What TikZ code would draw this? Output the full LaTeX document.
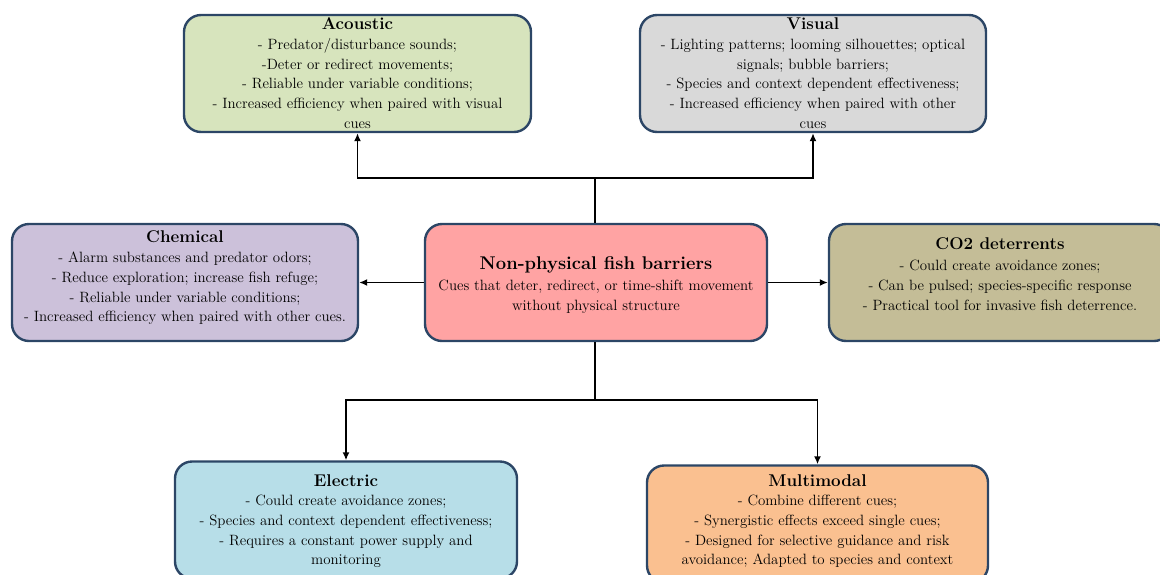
\documentclass[tikz,border=0pt]{standalone}
\usetikzlibrary{arrows.meta}
\definecolor{edgeblue}{HTML}{2C4666}
\definecolor{acfill}{HTML}{D7E4BD}
\definecolor{vifill}{HTML}{D9D9D9}
\definecolor{chfill}{HTML}{CCC1DA}
\definecolor{ctfill}{HTML}{FFA3A3}
\definecolor{cofill}{HTML}{C4BD97}
\definecolor{elfill}{HTML}{B7DEE8}
\definecolor{mmfill}{HTML}{FAC090}
\tikzset{
  cuebox/.style={draw=edgeblue, line width=2.4pt, rounded corners=17pt,
    minimum width=#1, minimum height=117pt, inner sep=0pt},
  headtxt/.style={anchor=north, inner sep=0pt, font=\fontsize{17}{20}\selectfont\bfseries},
  bodytxt/.style={anchor=north, inner sep=0pt, align=center,
    font=\fontsize{14.9}{19.7}\selectfont},
  link/.style={line width=1.5pt, draw=black},
  arr/.style={link, -{Latex[length=8pt,width=7pt]}}
}
\begin{document}
\begin{tikzpicture}[x=1pt,y=-1pt]
\useasboundingbox (0,0) rectangle (1160,574);
\clip (0,0) rectangle (1160,574);

% boxes
\node[cuebox=347pt, fill=acfill] (ac) at (357.5,73.5) {};
\node[cuebox=346pt, fill=vifill] (vi) at (813,73.5) {};
\node[cuebox=346pt, fill=chfill] (ch) at (185,282.5) {};
\node[cuebox=342pt, fill=ctfill] (ct) at (596,282.5) {};
\node[cuebox=342pt, fill=cofill] (co) at (1000,282.5) {};
\node[cuebox=342pt, fill=elfill] (el) at (346,520) {};
\node[cuebox=341pt, fill=mmfill] (mm) at (817.5,524) {};

% texts
\node[headtxt] (acH) at (357.5,17) {Acoustic};
\node[bodytxt] (acB) at (357.5,38) {- Predator/disturbance sounds;\\
  -Deter or redirect movements;\\
  - Reliable under variable conditions;\\
  - Increased efficiency when paired with visual\\
  cues};

\node[headtxt] (viH) at (813,17) {Visual};
\node[bodytxt] (viB) at (813,39) {- Lighting patterns; looming silhouettes; optical\\
  signals; bubble barriers;\\
  - Species and context dependent effectiveness;\\
  - Increased efficiency when paired with other\\
  cues};

\node[headtxt] (chH) at (185,230) {Chemical};
\node[bodytxt] (chB) at (185,252) {- Alarm substances and predator odors;\\
  - Reduce exploration; increase fish refuge;\\
  - Reliable under variable conditions;\\
  - Increased efficiency when paired with other cues.};

\node[headtxt, font=\fontsize{18.4}{22}\selectfont\bfseries] (ctH) at (596,256.5) {Non-physical fish barriers};
\node[bodytxt] (ctB) at (596,280) {Cues that deter, redirect, or time-shift movement\\
  without physical structure};

\node[headtxt] (coH) at (1000,237) {CO2 deterrents};
\node[bodytxt] (coB) at (1000,260) {- Could create avoidance zones;\\
  - Can be pulsed; species-specific response\\
  - Practical tool for invasive fish deterrence.};

\node[headtxt] (elH) at (346,474) {Electric};
\node[bodytxt] (elB) at (346,495) {- Could create avoidance zones;\\
  - Species and context dependent effectiveness;\\
  - Requires a constant power supply and\\
  monitoring};

\node[headtxt] (mmH) at (817.5,474) {Multimodal};
\node[bodytxt] (mmB) at (817.5,495) {- Combine different cues;\\
  - Synergistic effects exceed single cues;\\
  - Designed for selective guidance and risk\\
  avoidance; Adapted to species and context};

% connectors
\coordinate (topJ) at (595,178);
\coordinate (botJ) at (595,400);
\draw[link] (ct.north -| topJ) -- (topJ);
\draw[arr] (topJ) -| (ac.south);
\draw[arr] (topJ) -| (vi.south);
\draw[link] (ct.south -| botJ) -- (botJ);
\draw[arr] (botJ) -| (el.north);
\draw[arr] (botJ) -| (mm.north);
\draw[arr] (ct.west) -- (ch.east);
\draw[arr] (ct.east) -- (co.west);
\end{tikzpicture}
\end{document}
